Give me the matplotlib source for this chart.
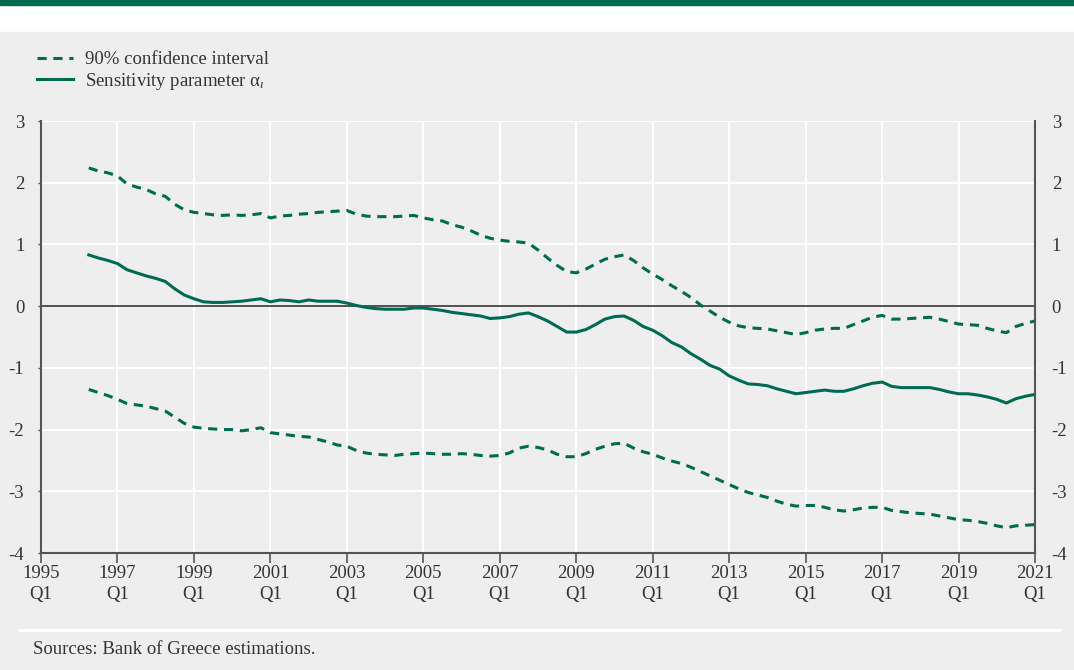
import matplotlib.pyplot as plt
from matplotlib.patches import Rectangle
from matplotlib.lines import Line2D

# quarterly series, 1996Q2 .. 2021Q1
start_year = 1996.25
alpha = [0.83, 0.78, 0.74,
         0.69, 0.59, 0.54, 0.49,
         0.45, 0.40, 0.28, 0.18,
         0.12, 0.07, 0.06, 0.06,
         0.07, 0.08, 0.10, 0.12,
         0.07, 0.10, 0.09, 0.07,
         0.10, 0.08, 0.08, 0.08,
         0.05, 0.01, -0.02, -0.04,
         -0.05, -0.05, -0.05, -0.03,
         -0.03, -0.05, -0.07, -0.10,
         -0.12, -0.14, -0.16, -0.20,
         -0.19, -0.17, -0.13, -0.11,
         -0.17, -0.24, -0.33, -0.42,
         -0.42, -0.38, -0.30, -0.21,
         -0.17, -0.16, -0.23, -0.33,
         -0.39, -0.48, -0.59, -0.66,
         -0.77, -0.86, -0.96, -1.02,
         -1.13, -1.20, -1.26, -1.27,
         -1.29, -1.34, -1.38, -1.42,
         -1.40, -1.38, -1.36, -1.38,
         -1.38, -1.34, -1.29, -1.25,
         -1.23, -1.30, -1.32, -1.32,
         -1.32, -1.32, -1.35, -1.39,
         -1.42, -1.42, -1.44, -1.47,
         -1.51, -1.57, -1.50, -1.46,
         -1.43]
upper = [2.24, 2.19, 2.16,
         2.11, 1.98, 1.93, 1.89,
         1.82, 1.78, 1.65, 1.56,
         1.52, 1.50, 1.48, 1.47,
         1.48, 1.47, 1.48, 1.50,
         1.43, 1.46, 1.47, 1.49,
         1.50, 1.52, 1.53, 1.54,
         1.55, 1.49, 1.46, 1.45,
         1.45, 1.45, 1.46, 1.47,
         1.43, 1.40, 1.38, 1.32,
         1.28, 1.22, 1.15, 1.10,
         1.07, 1.05, 1.04, 1.02,
         0.91, 0.78, 0.66, 0.56,
         0.54, 0.60, 0.68, 0.76,
         0.80, 0.83, 0.74, 0.62,
         0.52, 0.43, 0.33, 0.24,
         0.14, 0.02, -0.08, -0.18,
         -0.26, -0.32, -0.35, -0.36,
         -0.37, -0.40, -0.43, -0.46,
         -0.43, -0.39, -0.37, -0.36,
         -0.36, -0.30, -0.24, -0.18,
         -0.15, -0.21, -0.21, -0.20,
         -0.19, -0.18, -0.21, -0.25,
         -0.29, -0.30, -0.31, -0.36,
         -0.40, -0.43, -0.33, -0.28,
         -0.24]
lower = [-1.35, -1.40, -1.45,
         -1.51, -1.58, -1.60, -1.62,
         -1.66, -1.70, -1.80, -1.90,
         -1.96, -1.98, -1.99, -2.00,
         -2.00, -2.02, -2.00, -1.97,
         -2.05, -2.07, -2.09, -2.11,
         -2.12, -2.16, -2.20, -2.25,
         -2.27, -2.34, -2.38, -2.40,
         -2.41, -2.42, -2.40, -2.39,
         -2.38, -2.39, -2.40, -2.40,
         -2.39, -2.40, -2.42, -2.43,
         -2.42, -2.38, -2.30, -2.27,
         -2.29, -2.33, -2.40, -2.44,
         -2.44, -2.39, -2.32, -2.27,
         -2.23, -2.22, -2.30, -2.36,
         -2.40, -2.46, -2.51, -2.55,
         -2.61, -2.68, -2.75, -2.82,
         -2.89, -2.96, -3.02, -3.06,
         -3.10, -3.16, -3.21, -3.24,
         -3.23, -3.23, -3.26, -3.30,
         -3.32, -3.30, -3.27, -3.26,
         -3.26, -3.31, -3.33, -3.35,
         -3.36, -3.37, -3.40, -3.43,
         -3.46, -3.47, -3.49, -3.52,
         -3.56, -3.59, -3.56, -3.55,
         -3.54]

tick_years = list(range(1995, 2022, 2))
tick_labels = [f'{y}\nQ1' for y in tick_years]
y_ticks = [-4, -3, -2, -1, 0, 1, 2, 3]

green = '#006b52'
grey_bg = '#eeeeee'
text_col = '#333333'

plt.rcParams['font.family'] = ['Liberation Serif', 'DejaVu Serif']
plt.rcParams['mathtext.fontset'] = 'stix'
plt.rcParams['font.size'] = 13.5

t = [start_year + 0.25 * i for i in range(len(alpha))]

fig = plt.figure(figsize=(10.74, 6.70), dpi=100, facecolor='white')
fig.patches.append(Rectangle((0, 1 - 5 / 670), 1, 5 / 670, transform=fig.transFigure,
                             color='#006b52', zorder=-1))
fig.patches.append(Rectangle((0, 0), 1, 1 - 32 / 670, transform=fig.transFigure,
                             color=grey_bg, zorder=-1))
fig.lines.append(Line2D([20 / 1074, 1060 / 1074], [40 / 670, 40 / 670],
                        transform=fig.transFigure, color='white', lw=2))

ax = fig.add_axes([41 / 1074, 117 / 670, 994 / 1074, 432 / 670])
ax.set_facecolor(grey_bg)

ax.plot(t, upper, color=green, lw=2.2, ls=(0, (3, 2.2)), label='90% confidence interval')
ax.plot(t, lower, color=green, lw=2.2, ls=(0, (3, 2.2)))
ax.plot(t, alpha, color=green, lw=2.2, label='Sensitivity parameter α$_\\iota$')
ax.axhline(0, color='#222222', lw=1.1, zorder=1.5)

ax.set_xlim(1995, 2021)
ax.set_ylim(-4, 3)
ax.set_xticks(tick_years)
ax.set_xticklabels(tick_labels, color=text_col, linespacing=1.3)
ax.set_yticks(y_ticks)
ax.set_yticklabels([str(v) for v in y_ticks], color=text_col)
ax.grid(True, color='white', lw=1.5)
ax.set_axisbelow(True)

ax.tick_params(axis='x', direction='out', length=7, width=1.2, color='#555555', pad=2)
ax.tick_params(axis='y', direction='out', length=2, width=1, color='#555555',
               left=True, right=False, labelleft=True, labelright=True, pad=10)
for s in ['left', 'right', 'bottom']:
    ax.spines[s].set_color('#555555')
    ax.spines[s].set_linewidth(1.5)
ax.spines['top'].set_visible(False)

handles, labels = ax.get_legend_handles_labels()
fig.legend(handles, labels, loc='upper left', bbox_to_anchor=(37 / 1074, 1 - 51 / 670),
           frameon=False, handlelength=1.9, handletextpad=0.65, labelspacing=0.15,
           labelcolor=text_col, fontsize=13.5, borderpad=0, borderaxespad=0)

fig.text(33 / 1074, 1 - 650 / 670, 'Sources: Bank of Greece estimations.', color=text_col,
         fontsize=13.5, va='center', ha='left')

fig.savefig('out.png', dpi=100, facecolor=fig.get_facecolor())
